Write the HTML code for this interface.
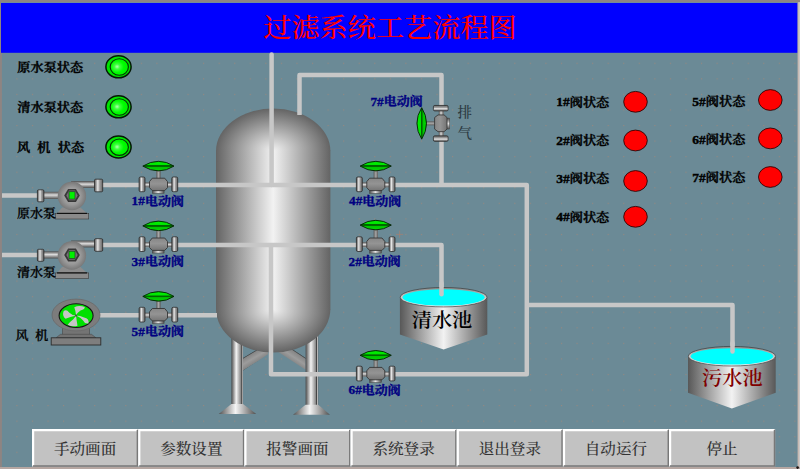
<!DOCTYPE html>
<html lang="zh-CN"><head><meta charset="utf-8"><title>过滤系统工艺流程图</title>
<style>
html,body{margin:0;padding:0;background:#6b8a96;overflow:hidden}
svg{display:block}
text{font-family:"Liberation Serif","Noto Serif CJK SC",serif}
.lb{font-size:13.2px;font-weight:600;fill:#000;stroke:#000;stroke-width:0.42px}
.vl{font-size:13px;font-weight:700;fill:#000080;stroke:#000080;stroke-width:0.35px}
.pl{font-size:13px;font-weight:500;fill:#000;stroke:#000;stroke-width:0.36px}
.bt{font-size:15.6px;font-weight:500;fill:#333;text-anchor:middle}
.dg{font-family:"Liberation Mono",monospace;font-size:11.2px;font-weight:700}
</style></head><body>
<svg width="800" height="469" viewBox="0 0 800 469">
<defs>
<linearGradient id="gTank" x1="0" x2="1" y1="0" y2="0">
<stop offset="0" stop-color="#646464"/><stop offset="0.12" stop-color="#868686"/><stop offset="0.5" stop-color="#f2f2f2"/><stop offset="0.88" stop-color="#868686"/><stop offset="1" stop-color="#646464"/>
</linearGradient>
<radialGradient id="gDomeT" gradientUnits="userSpaceOnUse" cx="273.2" cy="151" r="57.2" gradientTransform="translate(0,151) scale(1,0.743) translate(0,-151)">
<stop offset="0" stop-color="#f2f2f2"/><stop offset="0.76" stop-color="#868686"/><stop offset="1" stop-color="#646464"/>
</radialGradient>
<radialGradient id="gDomeB" gradientUnits="userSpaceOnUse" cx="273.2" cy="309" r="57.2" gradientTransform="translate(0,309) scale(1,0.76) translate(0,-309)">
<stop offset="0" stop-color="#f2f2f2"/><stop offset="0.76" stop-color="#868686"/><stop offset="1" stop-color="#646464"/>
</radialGradient>
<linearGradient id="gBrL" gradientUnits="userSpaceOnUse" x1="252.6" y1="352.2" x2="258.4" y2="362">
<stop offset="0" stop-color="#2a2a2a"/><stop offset="0.1" stop-color="#868686"/><stop offset="0.5" stop-color="#9c9c9c"/><stop offset="0.9" stop-color="#868686"/><stop offset="1" stop-color="#2a2a2a"/>
</linearGradient>
<linearGradient id="gBrR" gradientUnits="userSpaceOnUse" x1="295.5" y1="351.2" x2="289" y2="361">
<stop offset="0" stop-color="#2a2a2a"/><stop offset="0.1" stop-color="#868686"/><stop offset="0.5" stop-color="#9c9c9c"/><stop offset="0.9" stop-color="#868686"/><stop offset="1" stop-color="#2a2a2a"/>
</linearGradient>
<linearGradient id="gCylH" x1="0" x2="1" y1="0" y2="0">
<stop offset="0" stop-color="#4c4c4c"/><stop offset="0.5" stop-color="#e6e6e6"/><stop offset="1" stop-color="#4c4c4c"/>
</linearGradient>
<linearGradient id="gCylV" x1="0" x2="0" y1="0" y2="1">
<stop offset="0" stop-color="#505050"/><stop offset="0.45" stop-color="#dcdcdc"/><stop offset="1" stop-color="#505050"/>
</linearGradient>
<linearGradient id="gBodyV" x1="0" x2="0" y1="0" y2="1">
<stop offset="0" stop-color="#868686"/><stop offset="0.45" stop-color="#949494"/><stop offset="1" stop-color="#747474"/>
</linearGradient>
<linearGradient id="gFl" x1="0" x2="1" y1="0" y2="0">
<stop offset="0" stop-color="#585858"/><stop offset="0.16" stop-color="#8c8c8c"/><stop offset="0.4" stop-color="#e6e6e6"/><stop offset="0.62" stop-color="#a0a0a0"/><stop offset="0.85" stop-color="#7c7c7c"/><stop offset="1" stop-color="#505050"/>
</linearGradient>
<linearGradient id="gStem" x1="0" x2="1" y1="0" y2="0">
<stop offset="0" stop-color="#5c5c5c"/><stop offset="0.5" stop-color="#a6a6a6"/><stop offset="1" stop-color="#5c5c5c"/>
</linearGradient>
<radialGradient id="gPump" cx="0.5" cy="0.5" r="0.5">
<stop offset="0" stop-color="#acacac"/><stop offset="0.6" stop-color="#9a9a9a"/><stop offset="1" stop-color="#787878"/>
</radialGradient>
<linearGradient id="gLens" x1="0" x2="0" y1="0" y2="1">
<stop offset="0" stop-color="#00b000"/><stop offset="0.15" stop-color="#00f000"/><stop offset="0.38" stop-color="#00e400"/><stop offset="0.44" stop-color="#006000"/><stop offset="0.56" stop-color="#006c00"/><stop offset="0.62" stop-color="#00c400"/><stop offset="0.88" stop-color="#00d400"/><stop offset="1" stop-color="#008800"/>
</linearGradient>
<linearGradient id="gLensH" x1="0" x2="1" y1="0" y2="0">
<stop offset="0" stop-color="#00e800"/><stop offset="0.3" stop-color="#00ff00"/><stop offset="0.5" stop-color="#00d000"/><stop offset="0.55" stop-color="#007800"/><stop offset="0.62" stop-color="#00b000"/><stop offset="1" stop-color="#009000"/>
</linearGradient>
<radialGradient id="gLamp" cx="0.38" cy="0.48" r="0.6">
<stop offset="0" stop-color="#b4ffb4"/><stop offset="0.25" stop-color="#40ff40"/><stop offset="0.6" stop-color="#00ff00"/><stop offset="1" stop-color="#00f000"/>
</radialGradient>
<linearGradient id="gPool" x1="0" x2="1" y1="0" y2="0">
<stop offset="0" stop-color="#585858"/><stop offset="0.5" stop-color="#f2f2f2"/><stop offset="1" stop-color="#585858"/>
</linearGradient>
<linearGradient id="gRim" x1="0" x2="0" y1="0" y2="1">
<stop offset="0" stop-color="#8a8a8a"/><stop offset="0.5" stop-color="#c8c8c8"/><stop offset="1" stop-color="#f4f4f4"/>
</linearGradient>
<linearGradient id="gLeg" x1="0" x2="1" y1="0" y2="0">
<stop offset="0" stop-color="#4a4a4a"/><stop offset="0.42" stop-color="#f4f4f4"/><stop offset="0.8" stop-color="#8a8a8a"/><stop offset="0.86" stop-color="#383838"/><stop offset="0.92" stop-color="#e0e0e0"/><stop offset="1" stop-color="#555"/>
</linearGradient>
<linearGradient id="gFoot" x1="0" x2="1" y1="0" y2="0">
<stop offset="0" stop-color="#505050"/><stop offset="0.45" stop-color="#f4f4f4"/><stop offset="1" stop-color="#505050"/>
</linearGradient>
<pattern id="dots" x="0.8" y="0.5" width="15.56" height="15.56" patternUnits="userSpaceOnUse">
<rect x="0" y="0" width="1.1" height="1.1" fill="#a48678" opacity="0.75"/>
</pattern>

<g id="vlens">
<path d="M-15.7,-18.9 Q-8,-23.7 0,-23.7 Q8,-23.7 15.5,-18.9 Q8,-14.1 0,-14.1 Q-8,-14.1 -15.7,-18.9Z" fill="url(#gLens)" stroke="#042004" stroke-width="0.9"/>
</g>
<g id="vbody">
<rect x="-2.2" y="-15" width="4.4" height="9" fill="url(#gStem)"/>
<rect x="-14" y="-2.6" width="28" height="4.9" fill="url(#gCylV)"/>
<rect x="-19.4" y="-8" width="5.9" height="14.7" rx="1.4" fill="url(#gFl)" stroke="#2c2c2c" stroke-width="0.8"/>
<rect x="13.3" y="-8" width="5.9" height="14.7" rx="1.4" fill="url(#gFl)" stroke="#2c2c2c" stroke-width="0.8"/>
<rect x="-6.2" y="4" width="11.8" height="4.3" fill="url(#gCylH)" stroke="#444" stroke-width="0.5"/>
<path d="M-9,-3.4 L-6.2,-6.8 L6.2,-6.8 L9,-3.4 L9,2.7 L6.2,5.6 L-6.2,5.6 L-9,2.7Z" fill="url(#gBodyV)" stroke="#363636" stroke-width="0.9"/>
</g>
<g id="valve"><use href="#vbody"/><use href="#vlens"/></g>
<g id="pump">
<rect x="-28.5" y="-3.6" width="16" height="7.2" fill="url(#gCylV)"/>
<rect x="-34.6" y="-5.6" width="6.5" height="12" rx="1.2" fill="url(#gFl)" stroke="#2c2c2c" stroke-width="0.8"/>
<path d="M-1,-14.2 L23,-14.2 L23,-7.6 L10,-7.6 Z" fill="url(#gCylV)"/>
<rect x="-1" y="-14.2" width="24" height="6.6" fill="url(#gCylV)"/>
<rect x="22.5" y="-16.2" width="8.2" height="12.6" rx="1.2" fill="url(#gFl)" stroke="#2c2c2c" stroke-width="0.8"/>
<path d="M-10,12 L8.5,12 L15,18 L-15,18Z" fill="#8c8c8c"/>
<rect x="-16.7" y="18" width="33.4" height="5.6" fill="#8a8a8a" stroke="#3a3a3a" stroke-width="0.6"/>
<rect x="-15" y="17.4" width="30" height="1.2" fill="#111"/>
<circle cx="-0.1" cy="0.6" r="14.2" fill="url(#gPump)"/>
<path d="M-7.8,0 L-3.9,-6.5 L3.9,-6.5 L7.8,0 L3.9,6.5 L-3.9,6.5Z" fill="#383838"/>
<path d="M-5.7,0 L-2.9,-4.8 L2.9,-4.8 L5.7,0 L2.9,4.8 L-2.9,4.8Z" fill="#747474"/>
<rect x="-3" y="-3.7" width="6" height="7.4" fill="#00f000" stroke="#2a3a2a" stroke-width="0.7"/>
</g>
<g id="lamp">
<ellipse cx="0" cy="0" rx="12.6" ry="11" fill="#00e400" stroke="#041804" stroke-width="1.5"/>
<ellipse cx="0.8" cy="0.2" rx="9.1" ry="8.2" fill="url(#gLamp)" stroke="#063006" stroke-width="1.1"/>
</g>
<g id="red">
<ellipse cx="0" cy="0" rx="11.8" ry="10.4" fill="#ff0000" stroke="#1a0000" stroke-width="0.8"/>
</g>
</defs>

<rect x="0" y="0" width="800" height="469" fill="#6b8a96"/>
<rect x="0" y="0" width="800" height="469" fill="url(#dots)"/>
<rect x="0" y="0" width="1.9" height="469" fill="#8e8482"/>
<rect x="1" y="2.8" width="796.6" height="50" fill="#0000ff"/>
<text transform="translate(390,36.8) scale(1,0.93)" font-size="27.6" font-weight="500" fill="#ff0000" text-anchor="middle" textLength="253.5" lengthAdjust="spacingAndGlyphs">过滤系统工艺流程图</text>
<g>
<path d="M243,357.9 L268,343.1 L268,354.2 L243,370.6Z" fill="url(#gBrL)"/>
<path d="M305.6,357.9 L278,339.7 L278,351.8 L305.6,369.7Z" fill="url(#gBrR)"/>
<rect x="231.4" y="335" width="11.6" height="70" fill="url(#gLeg)"/>
<rect x="305.6" y="335" width="12.6" height="71" fill="url(#gLeg)"/>
<path d="M231.4,404 L243,404 L256.2,413.9 L218.7,413.9Z" fill="url(#gFoot)"/>
<path d="M305.6,404.8 L318.2,404.8 L330,414.8 L293,414.8Z" fill="url(#gFoot)"/>
<rect x="216" y="150.5" width="114.4" height="159" fill="url(#gTank)"/>
<path d="M216,151 A57.2,42.5 0 0 1 330.4,151Z" fill="url(#gDomeT)"/>
<path d="M216,309 A57.2,43.5 0 0 0 330.4,309Z" fill="url(#gDomeB)"/>
</g>
<path d="M2,195.5 H38" fill="none" stroke="#c7c7c7" stroke-width="4.5" stroke-linejoin="round" stroke-linecap="butt"/>
<path d="M2,255 H38" fill="none" stroke="#c7c7c7" stroke-width="4.5" stroke-linejoin="round" stroke-linecap="butt"/>
<path d="M100,185 H526.8 V374.2 H271 V245" fill="none" stroke="#c7c7c7" stroke-width="4.5" stroke-linejoin="round" stroke-linecap="butt"/>
<path d="M100,244.9 H441.5 V295" fill="none" stroke="#c7c7c7" stroke-width="4.5" stroke-linejoin="round" stroke-linecap="round"/>
<path d="M99,315.3 H217" fill="none" stroke="#c7c7c7" stroke-width="4.5" stroke-linejoin="round" stroke-linecap="butt"/>
<path d="M271.6,54.5 V185" fill="none" stroke="#c7c7c7" stroke-width="4.5" stroke-linejoin="round" stroke-linecap="round"/>
<path d="M299.5,115 V75.1 H441.5 V185" fill="none" stroke="#c7c7c7" stroke-width="4.5" stroke-linejoin="round" stroke-linecap="butt"/>
<path d="M528.4,305.1 H732.5 V352" fill="none" stroke="#c7c7c7" stroke-width="4.5" stroke-linejoin="round" stroke-linecap="round"/>
<path d="M399.9,297.2 L399.9,334.4 L443.6,349.6 L487.3,334.4 L487.3,297.2Z" fill="url(#gPool)"/>
<ellipse cx="443.6" cy="297.2" rx="43.4" ry="9.7" fill="url(#gRim)" stroke="#3c3c3c" stroke-width="0.7"/>
<ellipse cx="443.6" cy="297.4" rx="41.1" ry="8.1" fill="#00ffff"/>
<text x="442.0" y="327.2" font-size="20.2" font-weight="600" fill="#000" text-anchor="middle" transform="translate(0,327.2) scale(1,0.96) translate(0,-327.2)">清水池</text>
<path d="M688.0,356.2 L688.0,392.8 L731.9,408.5 L775.7,392.8 L775.7,356.2Z" fill="url(#gPool)"/>
<ellipse cx="731.9" cy="356.2" rx="43.6" ry="9.8" fill="url(#gRim)" stroke="#3c3c3c" stroke-width="0.7"/>
<ellipse cx="731.9" cy="356.4" rx="41.3" ry="8.2" fill="#00ffff"/>
<text x="732.4" y="384.8" font-size="20.2" font-weight="600" fill="#800000" text-anchor="middle" transform="translate(0,384.8) scale(1,0.96) translate(0,-384.8)">污水池</text>
<path d="M441.5,283 V294.2" fill="none" stroke="#c7c7c7" stroke-width="4.5" stroke-linejoin="round" stroke-linecap="round"/>
<path d="M732.5,343 V351.6" fill="none" stroke="#c7c7c7" stroke-width="4.5" stroke-linejoin="round" stroke-linecap="round"/>
<use href="#pump" x="72" y="195.4"/>
<use href="#pump" x="72" y="254.9"/>
<g>
<rect x="62.4" y="326" width="27.2" height="9" fill="#747474" stroke="#4a4a4a" stroke-width="0.6"/>
<path d="M60.5,334.3 L91.5,334.3 L96,337.8 L56,337.8Z" fill="#727272" stroke="#444" stroke-width="0.5"/>
<rect x="51.2" y="337.8" width="49.6" height="7.2" fill="#7e7e7e" stroke="#2c2c2c" stroke-width="0.9"/>
<ellipse cx="76" cy="315" rx="24" ry="15.9" fill="#7c7c7c" stroke="#6a6a6a" stroke-width="0.8"/>
<ellipse cx="76.1" cy="315.6" rx="17" ry="11.9" fill="#00e000" stroke="#161616" stroke-width="1.1"/>
<g fill="#c6c6c6" transform="translate(0.1,0.4)">
<path d="M76,315.2 Q70,316.4 65.5,318.4 Q61.5,315.5 63.6,310.6 Q66.4,308.4 69,312 Q72,315 76,315.2Z"/>
<path d="M76,315.2 Q75.4,310 74.2,306.8 Q79,304.4 84.6,306.6 Q85.2,309 80.4,310 Q77.2,312 76,315.2Z"/>
<path d="M76,315.2 Q80,315.5 84,317 Q89.4,318 88.4,323 Q85,324 83,320 Q80,317 76,315.2Z"/>
<path d="M76,315.2 Q76.4,320 77.4,325.4 Q72,326.8 67.6,324.4 Q70,321 73,319 Q75,317 76,315.2Z"/>
</g>
<circle cx="76.1" cy="315.6" r="1.1" fill="#4a4a4a"/>
</g>
<use href="#vbody" x="158.5" y="185.0"/>
<use href="#vlens" x="158.5" y="185.0"/>
<use href="#vbody" x="158.5" y="244.8"/>
<use href="#vlens" x="158.5" y="244.8"/>
<use href="#vbody" x="158.5" y="315.3"/>
<use href="#vlens" x="158.5" y="315.3"/>
<use href="#vbody" x="375.8" y="185.0"/>
<use href="#vlens" x="375.8" y="185.0"/>
<use href="#vbody" x="375.8" y="244.8"/>
<use href="#vlens" x="375.8" y="244.0"/>
<use href="#vbody" x="375.8" y="374.2"/>
<use href="#vlens" x="375.8" y="374.2"/>
<use href="#vbody" transform="translate(441.4,123.3) rotate(-90) scale(0.93,1)"/>
<use href="#vlens" transform="translate(440.6,123.3) rotate(-90) scale(1.01,1)"/>
<use href="#lamp" x="118.5" y="66.8"/>
<use href="#lamp" x="118.5" y="106.8"/>
<use href="#lamp" x="118.5" y="147.0"/>
<use href="#red" x="635.5" y="101.8"/>
<use href="#red" x="635.5" y="140.5"/>
<use href="#red" x="635.5" y="181.0"/>
<use href="#red" x="635.5" y="216.8"/>
<use href="#red" x="770.3" y="100.0"/>
<use href="#red" x="770.3" y="138.4"/>
<use href="#red" x="770.3" y="177.0"/>
<text transform="translate(17.3,71.6) scale(1,0.93)" class="lb">原水泵状态</text>
<text transform="translate(17.3,111.6) scale(1,0.93)" class="lb">清水泵状态</text>
<text transform="translate(0,151.6) scale(1,0.93)" class="lb"><tspan x="17">风</tspan><tspan x="37.3">机</tspan><tspan x="57.8">状态</tspan></text>
<text transform="translate(17.0,217.6) scale(1,0.92)" class="pl">原水泵</text>
<text transform="translate(17.0,277.0) scale(1,0.92)" class="pl">清水泵</text>
<text transform="translate(0,340.3) scale(1,0.92)" class="pl"><tspan x="15.5">风</tspan><tspan x="35.2">机</tspan></text>
<text transform="translate(131.6,205.3) scale(1.02,1.0)" class="vl">1#</text>
<text transform="translate(144.9,205.5) scale(1,0.94)" class="vl">电动阀</text>
<text transform="translate(131.6,265.9) scale(1.02,1.0)" class="vl">3#</text>
<text transform="translate(144.9,266.1) scale(1,0.94)" class="vl">电动阀</text>
<text transform="translate(131.6,335.7) scale(1.02,1.0)" class="vl">5#</text>
<text transform="translate(144.9,335.9) scale(1,0.94)" class="vl">电动阀</text>
<text transform="translate(349.0,205.3) scale(1.02,1.0)" class="vl">4#</text>
<text transform="translate(362.3,205.5) scale(1,0.94)" class="vl">电动阀</text>
<text transform="translate(348.5,265.6) scale(1.02,1.0)" class="vl">2#</text>
<text transform="translate(361.8,265.8) scale(1,0.94)" class="vl">电动阀</text>
<text transform="translate(348.5,394.3) scale(1.02,1.0)" class="vl">6#</text>
<text transform="translate(361.8,394.5) scale(1,0.94)" class="vl">电动阀</text>
<text transform="translate(370.4,105.7) scale(1.02,1.0)" class="vl">7#</text>
<text transform="translate(383.7,105.9) scale(1,0.94)" class="vl">电动阀</text>
<text transform="translate(457.5,117.2) scale(1,0.93)" font-size="14.5" font-weight="500" fill="#2c3a42">排</text>
<text transform="translate(457.5,138) scale(1,0.93)" font-size="14.5" font-weight="500" fill="#2c3a42">气</text>
<text transform="translate(556.2,106.4) scale(1.02,1.0)" class="lb">1#</text>
<text transform="translate(569.7,106.6) scale(1,0.93)" class="lb">阀状态</text>
<text transform="translate(556.2,144.6) scale(1.02,1.0)" class="lb">2#</text>
<text transform="translate(569.7,144.8) scale(1,0.93)" class="lb">阀状态</text>
<text transform="translate(556.2,183.2) scale(1.02,1.0)" class="lb">3#</text>
<text transform="translate(569.7,183.4) scale(1,0.93)" class="lb">阀状态</text>
<text transform="translate(556.2,221.4) scale(1.02,1.0)" class="lb">4#</text>
<text transform="translate(569.7,221.6) scale(1,0.93)" class="lb">阀状态</text>
<text transform="translate(692.3,105.7) scale(1.02,1.0)" class="lb">5#</text>
<text transform="translate(705.8,105.9) scale(1,0.93)" class="lb">阀状态</text>
<text transform="translate(692.3,143.9) scale(1.02,1.0)" class="lb">6#</text>
<text transform="translate(705.8,144.1) scale(1,0.93)" class="lb">阀状态</text>
<text transform="translate(692.3,182.2) scale(1.02,1.0)" class="lb">7#</text>
<text transform="translate(705.8,182.4) scale(1,0.93)" class="lb">阀状态</text>
<rect x="32.0" y="429.0" width="106.2" height="37.8" fill="#c2c2c2"/>
<path d="M33.1,465.8 L33.1,430.1 L137.2,430.1" fill="none" stroke="#ffffff" stroke-width="2.2"/>
<path d="M33.0,466.1 L137.4,466.1 L137.4,430.0" fill="none" stroke="#787878" stroke-width="1.5"/>
<text transform="translate(85.1,453.8) scale(1,0.93)" class="bt">手动画面</text>
<rect x="138.2" y="429.0" width="106.2" height="37.8" fill="#c2c2c2"/>
<path d="M139.3,465.8 L139.3,430.1 L243.3,430.1" fill="none" stroke="#ffffff" stroke-width="2.2"/>
<path d="M139.2,466.1 L243.6,466.1 L243.6,430.0" fill="none" stroke="#787878" stroke-width="1.5"/>
<text transform="translate(191.3,453.8) scale(1,0.93)" class="bt">参数设置</text>
<rect x="244.3" y="429.0" width="106.2" height="37.8" fill="#c2c2c2"/>
<path d="M245.4,465.8 L245.4,430.1 L349.5,430.1" fill="none" stroke="#ffffff" stroke-width="2.2"/>
<path d="M245.3,466.1 L349.8,466.1 L349.8,430.0" fill="none" stroke="#787878" stroke-width="1.5"/>
<text transform="translate(297.4,453.8) scale(1,0.93)" class="bt">报警画面</text>
<rect x="350.5" y="429.0" width="106.2" height="37.8" fill="#c2c2c2"/>
<path d="M351.6,465.8 L351.6,430.1 L455.7,430.1" fill="none" stroke="#ffffff" stroke-width="2.2"/>
<path d="M351.5,466.1 L455.9,466.1 L455.9,430.0" fill="none" stroke="#787878" stroke-width="1.5"/>
<text transform="translate(403.6,453.8) scale(1,0.93)" class="bt">系统登录</text>
<rect x="456.7" y="429.0" width="106.2" height="37.8" fill="#c2c2c2"/>
<path d="M457.8,465.8 L457.8,430.1 L561.9,430.1" fill="none" stroke="#ffffff" stroke-width="2.2"/>
<path d="M457.7,466.1 L562.1,466.1 L562.1,430.0" fill="none" stroke="#787878" stroke-width="1.5"/>
<text transform="translate(509.8,453.8) scale(1,0.93)" class="bt">退出登录</text>
<rect x="562.9" y="429.0" width="106.2" height="37.8" fill="#c2c2c2"/>
<path d="M564.0,465.8 L564.0,430.1 L668.0,430.1" fill="none" stroke="#ffffff" stroke-width="2.2"/>
<path d="M563.9,466.1 L668.3,466.1 L668.3,430.0" fill="none" stroke="#787878" stroke-width="1.5"/>
<text transform="translate(615.9,453.8) scale(1,0.93)" class="bt">自动运行</text>
<rect x="669.0" y="429.0" width="106.2" height="37.8" fill="#c2c2c2"/>
<path d="M670.1,465.8 L670.1,430.1 L774.2,430.1" fill="none" stroke="#ffffff" stroke-width="2.2"/>
<path d="M670.0,466.1 L774.5,466.1 L774.5,430.0" fill="none" stroke="#787878" stroke-width="1.5"/>
<text transform="translate(722.1,453.8) scale(1,0.93)" class="bt">停止</text>
<path d="M396,234.4 H403.2 M399.6,230.6 V237.8" stroke="#a8806e" stroke-width="0.8" fill="none" opacity="0.85"/>
<rect x="797.6" y="0" width="2.4" height="469" fill="#c8bab3"/>
<rect x="799.2" y="0" width="0.8" height="469" fill="#cdcdcd"/>
<rect x="0" y="467" width="800" height="2" fill="#b6a7a2"/>
<rect x="0" y="0" width="800" height="2.1" fill="#8e8482"/>
<rect x="1" y="2.1" width="796.6" height="0.7" fill="#7f9994"/>
<circle cx="797.6" cy="467.6" r="1.3" fill="#1a1210"/>
</svg></body></html>
